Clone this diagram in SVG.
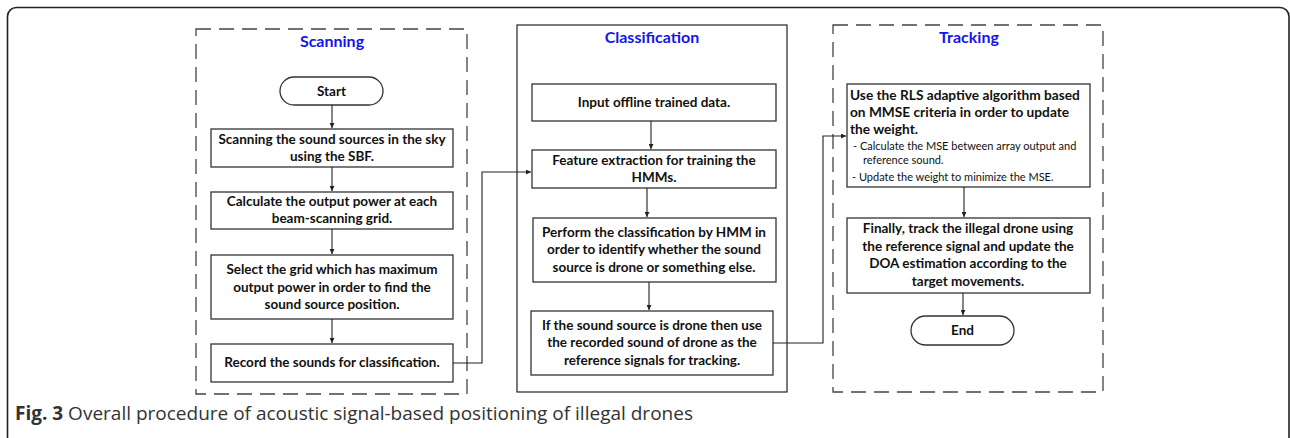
<svg xmlns="http://www.w3.org/2000/svg" width="1290" height="438" viewBox="0 0 1290 438">
<defs>
<marker id="arr" viewBox="0 0 8 8" refX="8" refY="4" markerWidth="5" markerHeight="5" orient="auto" markerUnits="userSpaceOnUse">
<path d="M0,0 L8,4 L0,8 z" fill="#222"/>
</marker>
<style>
.frame{fill:none;stroke:#222;stroke-width:1.6}
.dash{fill:none;stroke:#444;stroke-width:1.3;stroke-dasharray:15 8}
.solid{fill:none;stroke:#333;stroke-width:1.3}
.box{fill:#fff;stroke:#333;stroke-width:1.3}
.t{font-family:Lato,"Liberation Sans",sans-serif;font-weight:bold;font-size:13.5px;fill:#111;text-anchor:middle}
.tl{font-family:Lato,"Liberation Sans",sans-serif;font-weight:bold;font-size:13.7px;fill:#111}
.s{font-family:Lato,"Liberation Sans",sans-serif;font-size:11px;fill:#111}
.title{font-family:Lato,"Liberation Sans",sans-serif;font-weight:bold;font-size:16px;fill:#1414f0;text-anchor:middle}
.cap{font-family:"Open Sans","Noto Sans",sans-serif;font-size:19px;fill:#333}
.conn{fill:none;stroke:#222;stroke-width:1.1}
</style>
</defs>
<rect class="frame" x="7.5" y="7.5" width="1281.5" height="450" rx="9"/>

<g id="scanning-group">
<rect class="dash" x="196" y="29" width="271" height="365"/>
<text class="title" x="332" y="47">Scanning</text>
</g>
<g id="classification-group">
<rect class="solid" x="517" y="25" width="270" height="367"/>
<text class="title" x="652" y="43">Classification</text>
</g>
<g id="tracking-group">
<rect class="dash" x="833" y="25" width="270" height="367"/>
<text class="title" x="969" y="43">Tracking</text>
</g>

<g id="start">
<rect class="box" x="280" y="77" width="103" height="28" rx="14"/>
<text class="t" x="331.5" y="96">Start</text>
</g>
<g id="s1">
<rect class="box" x="211" y="129" width="242" height="38"/>
<text class="t" x="332" y="144">Scanning the sound sources in the sky</text>
<text class="t" x="332" y="161">using the SBF.</text>
</g>
<g id="s2">
<rect class="box" x="211" y="192" width="242" height="37"/>
<text class="t" x="332" y="206">Calculate the output power at each</text>
<text class="t" x="332" y="223">beam-scanning grid.</text>
</g>
<g id="s3">
<rect class="box" x="211" y="255" width="242" height="64"/>
<text class="t" x="332" y="274">Select the grid which has maximum</text>
<text class="t" x="332" y="292">output power in order to find the</text>
<text class="t" x="332" y="309">sound source position.</text>
</g>
<g id="s4">
<rect class="box" x="211" y="344" width="242" height="38"/>
<text class="t" x="332" y="367">Record the sounds for classification.</text>
</g>

<g id="c1">
<rect class="box" x="532" y="84" width="244" height="37"/>
<text class="t" x="654" y="107">Input offline trained data.</text>
</g>
<g id="c2">
<rect class="box" x="532" y="150" width="244" height="38"/>
<text class="t" x="654" y="165">Feature extraction for training the</text>
<text class="t" x="654" y="182">HMMs.</text>
</g>
<g id="c3">
<rect class="box" x="533" y="218" width="243" height="64"/>
<text class="t" x="654" y="237">Perform the classification by HMM in</text>
<text class="t" x="654" y="254">order to identify whether the sound</text>
<text class="t" x="654" y="272">source is drone or something else.</text>
</g>
<g id="c4">
<rect class="box" x="531" y="311" width="242" height="64"/>
<text class="t" x="652" y="330">If the sound source is drone then use</text>
<text class="t" x="652" y="347">the recorded sound of drone as the</text>
<text class="t" x="652" y="365">reference signals for tracking.</text>
</g>

<g id="t1">
<rect class="box" x="847" y="84" width="243" height="103"/>
<text class="tl" x="850" y="100">Use the RLS adaptive algorithm based</text>
<text class="tl" x="850" y="117">on MMSE criteria in order to update</text>
<text class="tl" x="850" y="134">the weight.</text>
<text class="s" x="853" y="150">- Calculate the MSE between array output and</text>
<text class="s" x="863" y="164">reference sound.</text>
<text class="s" x="852" y="181">- Update the weight to minimize the MSE.</text>
</g>
<g id="t2">
<rect class="box" x="847" y="218" width="243" height="75"/>
<text class="t" x="968" y="233">Finally, track the illegal drone using</text>
<text class="t" x="968" y="251">the reference signal and update the</text>
<text class="t" x="968" y="268">DOA estimation according to the</text>
<text class="t" x="968" y="286">target movements.</text>
</g>
<g id="end">
<rect class="box" x="911" y="316" width="103" height="29" rx="14.5"/>
<text class="t" x="962.5" y="335">End</text>
</g>

<g id="connectors">
<path class="conn" d="M332,105 V128" marker-end="url(#arr)"/>
<path class="conn" d="M332,167 V191" marker-end="url(#arr)"/>
<path class="conn" d="M332,229 V254" marker-end="url(#arr)"/>
<path class="conn" d="M332,319 V343" marker-end="url(#arr)"/>
<path class="conn" d="M453,363 H482 V172 H531" marker-end="url(#arr)"/>
<path class="conn" d="M651,121 V149" marker-end="url(#arr)"/>
<path class="conn" d="M647,188 V217" marker-end="url(#arr)"/>
<path class="conn" d="M649,282 V310" marker-end="url(#arr)"/>
<path class="conn" d="M773,343 H823 V136 H846" marker-end="url(#arr)"/>
<path class="conn" d="M964,187 V217" marker-end="url(#arr)"/>
<path class="conn" d="M963,293 V315" marker-end="url(#arr)"/>
</g>

<text class="cap" x="15" y="420"><tspan font-weight="bold">Fig. 3</tspan> Overall procedure of acoustic signal-based positioning of illegal drones</text>
</svg>
